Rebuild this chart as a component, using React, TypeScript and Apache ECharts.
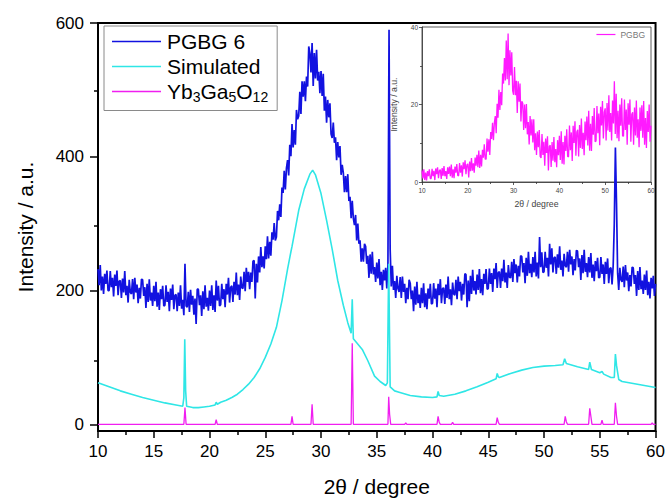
import React, { useEffect, useRef } from 'react';
import * as echarts from 'echarts';

// Main plot: measured PGBG 6 pattern, sampled every 0.1 degree from 10 to 60
const pgbgStart = 10;
const pgbgStep = 0.1;
const pgbgY = [
  232, 208, 238, 200, 221, 195, 225, 210, 230, 200,
  200, 229, 205, 219, 191, 224, 207, 230, 193, 214,
  215, 189, 218, 197, 229, 193, 207, 182, 216, 197,
  195, 217, 187, 219, 197, 209, 181, 204, 188, 217,
  216, 192, 205, 174, 210, 183, 217, 185, 197, 177,
  207, 184, 213, 176, 197, 171, 202, 187, 207, 177,
  178, 208, 183, 198, 169, 203, 186, 209, 172, 193,
  194, 169, 197, 177, 208, 173, 186, 163, 240, 177,
  175, 198, 168, 201, 179, 192, 164, 188, 150, 202,
  202, 178, 193, 162, 199, 172, 208, 176, 189, 170,
  200, 177, 208, 171, 193, 168, 215, 185, 207, 177,
  179, 210, 187, 202, 175, 210, 194, 219, 182, 205,
  207, 183, 213, 194, 227, 193, 209, 186, 221, 204,
  203, 228, 199, 234, 213, 228, 202, 227, 213, 244,
  245, 188, 240, 212, 251, 227, 265, 235, 251, 233,
  266, 247, 281, 248, 273, 252, 287, 276, 301, 275,
  280, 319, 305, 329, 310, 354, 346, 379, 351, 383,
  395, 372, 418, 401, 449, 414, 440, 418, 470, 456,
  461, 497, 464, 513, 490, 513, 483, 520, 505, 565,
  555, 526, 570, 506, 555, 517, 560, 514, 527, 495,
  528, 491, 524, 469, 490, 451, 485, 459, 480, 434,
  428, 451, 421, 429, 395, 422, 399, 416, 373, 388,
  376, 347, 371, 347, 374, 334, 340, 308, 334, 308,
  298, 313, 275, 300, 270, 275, 243, 263, 243, 270,
  266, 240, 252, 219, 254, 225, 258, 224, 235, 213,
  242, 218, 247, 208, 228, 201, 231, 215, 234, 203,
  238, 590, 262, 206, 237, 201, 214, 189, 222, 203,
  198, 220, 189, 221, 198, 210, 181, 204, 187, 216,
  211, 187, 200, 169, 206, 179, 213, 181, 194, 174,
  204, 181, 211, 175, 196, 172, 203, 188, 210, 180,
  181, 211, 188, 203, 175, 210, 193, 217, 181, 203,
  204, 180, 209, 189, 221, 187, 202, 178, 212, 195,
  193, 216, 187, 221, 199, 213, 185, 210, 194, 225,
  224, 175, 215, 184, 222, 195, 231, 200, 214, 194,
  224, 201, 232, 196, 217, 193, 225, 210, 232, 202,
  203, 233, 210, 226, 198, 233, 217, 241, 204, 227,
  228, 204, 233, 214, 246, 212, 227, 204, 238, 220,
  219, 243, 213, 247, 226, 239, 212, 237, 221, 252,
  251, 227, 241, 211, 249, 222, 258, 226, 240, 220,
  250, 227, 258, 221, 242, 218, 280, 235, 257, 227,
  228, 258, 234, 249, 221, 270, 239, 263, 227, 249,
  250, 225, 254, 234, 266, 231, 245, 221, 255, 237,
  235, 258, 228, 261, 239, 251, 223, 247, 230, 260,
  259, 235, 248, 216, 253, 226, 261, 228, 241, 220,
  250, 227, 256, 219, 239, 214, 244, 229, 249, 219,
  220, 250, 225, 239, 210, 243, 225, 248, 211, 233,
  234, 209, 237, 300, 414, 330, 226, 201, 234, 216,
  213, 236, 205, 238, 215, 227, 199, 223, 206, 235,
  234, 210, 223, 192, 229, 201, 235, 202, 215, 195,
  224, 201, 230, 193, 213, 188, 219, 203, 222, 192,
  210,
];

// Simulated pattern
const simX = [10, 11, 12, 13, 14, 15, 16, 17, 17.6, 17.7, 17.78, 17.86, 17.95, 18.5, 19, 19.5, 20, 20.5, 20.6, 20.7, 21, 21.5, 22, 22.5, 23, 23.5, 24, 24.5, 25, 25.5, 26, 26.5, 27, 27.3, 27.4, 27.5, 28, 28.5, 29, 29.25, 29.5, 30, 30.5, 31, 31.5, 32, 32.4, 32.7, 32.8, 32.9, 33.2, 33.7, 34.2, 34.8, 35.3, 35.8, 35.95, 36.07, 36.2, 36.6, 37, 38, 39, 40, 40.4, 40.5, 40.6, 41, 42, 43, 44, 45, 45.7, 45.8, 45.9, 46, 47, 48, 49, 50, 51, 51.7, 51.85, 52, 53, 54, 54.1, 54.25, 55, 55.2, 55.35, 56, 56.3, 56.4, 56.5, 56.7, 57, 58, 59, 60];
const simY = [62, 56, 50, 45, 40, 36, 32, 29, 27, 40, 127, 50, 27, 25, 25, 26, 27, 29, 33, 30, 33, 36, 40, 45, 52, 60, 70, 83, 100, 120, 145, 185, 232, 258, 266, 275, 320, 352, 374, 380, 373, 345, 305, 262, 215, 178, 152, 136, 187, 128, 122, 112, 95, 72, 64, 58, 62, 240, 56, 50, 48, 43, 41, 40, 41, 49, 43, 42, 45, 50, 56, 63, 68, 76, 71, 70, 76, 81, 85, 87, 88, 89, 98, 91, 86, 82, 93, 82, 77, 79, 75, 70, 70, 105, 88, 67, 64, 61, 58, 55];

// Reference Yb3Ga5O12 pattern
const ybX = [10, 17.7, 17.8, 17.9, 20.5, 20.6, 20.7, 27.3, 27.4, 27.5, 29.1, 29.2, 29.3, 32.7, 32.8, 32.9, 36.0, 36.07, 36.15, 36.25, 37.5, 37.6, 37.7, 40.4, 40.5, 40.6, 40.7, 41.7, 41.8, 41.9, 45.7, 45.8, 45.9, 46.0, 51.8, 51.9, 52.0, 52.1, 54.0, 54.1, 54.2, 54.3, 55.1, 55.2, 55.3, 56.3, 56.4, 56.5, 56.6, 59.6, 59.7, 59.8, 60];
const ybY = [0, 0, 25, 0, 0, 7, 0, 0, 12, 0, 0, 30, 0, 0, 121, 0, 0, 41, 15, 0, 0, 2, 0, 0, 12, 3, 0, 0, 3, 0, 0, 10, 3, 0, 0, 12, 4, 0, 0, 24, 12, 0, 0, 6, 0, 0, 32, 12, 0, 0, 2, 0, 0];

// Inset: PGBG pattern, sampled every 0.2 degree from 10 to 60
const insetStart = 10;
const insetStep = 0.2;
const insetY = [
  3.0, 0.9, 3.3, 0.5, 2.4, 0.4, 2.8, 1.5, 3.3, 0.9,
  0.9, 3.4, 1.5, 2.9, 0.5, 3.5, 2.0, 3.8, 1.0, 2.9,
  3.2, 0.8, 3.6, 1.6, 4.1, 1.5, 2.8, 0.8, 3.8, 2.1,
  4.0, 1.5, 4.5, 1.1, 3.3, 1.0, 4.0, 2.4, 4.6, 1.7,
  1.6, 4.9, 2.4, 4.3, 1.4, 5.1, 3.3, 5.6, 2.0, 4.4,
  4.7, 1.2, 5.3, 2.8, 6.2, 2.9, 4.8, 2.4, 6.3, 4.2,
  7.0, 3.8, 8.1, 3.6, 7.0, 4.0, 8.3, 6.3, 9.7, 5.9,
  5.9, 11.2, 7.8, 11.0, 7.0, 12.9, 11.1, 15.3, 10.8, 15.3,
  17.0, 12.6, 20.2, 16.6, 23.8, 18.6, 23.2, 19.8, 28.0, 25.4,
  32.0, 26.2, 36.5, 26.5, 38.3, 25.0, 34.0, 27.5, 33.5, 23.5,
  22.5, 29.7, 22.4, 26.1, 17.8, 26.0, 20.7, 25.4, 15.6, 20.8,
  20.3, 13.4, 20.0, 13.9, 20.1, 12.3, 15.5, 9.7, 17.0, 12.0,
  16.2, 10.2, 16.2, 8.2, 12.6, 7.0, 13.0, 9.0, 13.4, 6.6,
  6.2, 12.4, 7.0, 10.4, 4.2, 11.2, 7.5, 11.8, 3.0, 9.2,
  9.5, 3.9, 10.3, 5.5, 11.6, 5.1, 8.5, 3.8, 10.8, 6.9,
  11.9, 5.7, 13.1, 4.7, 10.3, 4.5, 11.9, 8.0, 13.6, 6.6,
  6.5, 14.6, 8.2, 12.8, 5.4, 14.5, 10.1, 15.7, 6.8, 12.9,
  13.5, 6.6, 14.7, 8.8, 16.4, 8.5, 12.7, 6.9, 15.6, 10.8,
  16.9, 9.4, 18.4, 8.1, 15.0, 8.0, 17.0, 12.2, 19.1, 10.4,
  10.6, 19.6, 12.6, 17.7, 9.5, 19.4, 14.6, 20.9, 11.2, 18.0,
  19.0, 10.7, 20.4, 13.3, 22.4, 12.9, 17.8, 10.7, 21.0, 15.1,
  26.0, 12.4, 22.8, 11.3, 18.4, 10.5, 20.0, 14.5, 21.6, 11.9,
  11.8, 21.3, 13.4, 18.7, 9.6, 20.3, 14.8, 21.3, 10.4, 17.5,
  18.0, 9.6, 19.2, 12.0, 21.0, 11.4, 16.2, 9.0, 19.2, 13.2,
  19.8, 11.4, 20.9, 9.6, 16.5, 8.8, 18.3, 12.9, 20.0, 10.4,
  14.5,
];

const mainYTicks = [0, 200, 400, 600];
const mainYMinorTicks = [100, 300, 500];

const FONT = '"Liberation Sans", Arial, Helvetica, sans-serif';

export default function App() {
  const ref = useRef<HTMLDivElement>(null);

  useEffect(() => {
    if (!ref.current) return;
    const chart = echarts.init(ref.current, null, { renderer: 'svg' });

    const pgbgData = pgbgY.map((v, i) => [Math.round((pgbgStart + i * pgbgStep) * 100) / 100, v]);
    const simData = simX.map((x, i) => [x, simY[i]]);
    const ybData = ybX.map((x, i) => [x, ybY[i]]);
    const insetData = insetY.map((v, i) => [Math.round((insetStart + i * insetStep) * 100) / 100, v]);

    const mainGrid = { left: 98, right: 11, top: 23, bottom: 67 };

    const option: any = {
      animation: false,
      backgroundColor: '#ffffff',
      textStyle: { fontFamily: FONT },
      grid: [
        { ...mainGrid, show: true, borderColor: '#000', borderWidth: 2, backgroundColor: 'transparent' },
        { left: 422, right: 17, top: 27, bottom: 320, show: true, borderColor: '#333', borderWidth: 0.8, backgroundColor: 'transparent' },
        { ...mainGrid, show: false },
      ],
      legend: [
        {
          data: ['PGBG 6', 'Simulated', 'Yb3Ga5O12'],
          orient: 'vertical',
          left: 104,
          top: 26,
          padding: [5, 9, 7, 8],
          itemGap: 4,
          itemWidth: 49,
          itemHeight: 1.3,
          icon: 'rect',
          borderColor: '#8a8a8a',
          borderWidth: 1,
          textStyle: {
            fontSize: 21,
            color: '#000',
            fontFamily: FONT,
            padding: [0, 0, 0, 1],
            rich: { s: { fontSize: 14, fontFamily: FONT, color: '#000', padding: [10, 0, 0, 0] } },
          },
          formatter: (n: string) => (n === 'Yb3Ga5O12' ? 'Yb{s|3}Ga{s|5}O{s|12}' : n),
        },
        {
          data: ['PGBG'],
          right: 23,
          top: 30,
          padding: 0,
          itemWidth: 19,
          itemHeight: 1.2,
          icon: 'rect',
          textStyle: { fontSize: 8.5, color: '#777', fontFamily: FONT },
        },
      ],
      xAxis: [
        {
          gridIndex: 0,
          type: 'value',
          min: 10,
          max: 60,
          interval: 5,
          name: '2θ / degree',
          nameLocation: 'middle',
          nameGap: 45,
          nameTextStyle: { fontSize: 21, color: '#000', fontFamily: FONT },
          axisLine: { show: true, onZero: false, lineStyle: { color: '#000', width: 2 } },
          axisTick: { show: true, length: 7, lineStyle: { color: '#000', width: 1.5 } },
          minorTick: { show: true, splitNumber: 2, length: 4, lineStyle: { color: '#000', width: 1.5 } },
          axisLabel: { fontSize: 17, color: '#000', margin: 12, fontFamily: FONT },
          splitLine: { show: false },
        },
        {
          gridIndex: 1,
          type: 'value',
          min: 10,
          max: 60,
          interval: 10,
          name: '2θ / degree',
          nameLocation: 'middle',
          nameGap: 17,
          nameTextStyle: { fontSize: 8.7, color: '#444', fontFamily: FONT },
          axisLine: { show: true, onZero: false, lineStyle: { color: '#333', width: 0.8 } },
          axisTick: { show: true, length: 3, lineStyle: { color: '#333', width: 0.8 } },
          minorTick: { show: true, splitNumber: 2, length: 2, lineStyle: { color: '#333', width: 0.8 } },
          axisLabel: { fontSize: 6.5, color: '#444', margin: 5, fontFamily: FONT },
          splitLine: { show: false },
        },
        {
          gridIndex: 2,
          type: 'value',
          min: 10,
          max: 60,
          show: false,
        },
      ],
      yAxis: [
        {
          gridIndex: 0,
          type: 'value',
          position: 'left',
          min: -10,
          max: 600,
          name: 'Intensity / a.u.',
          nameLocation: 'middle',
          nameGap: 62,
          nameRotate: 90,
          nameTextStyle: { fontSize: 21, color: '#000', fontFamily: FONT },
          axisLine: { show: true, onZero: false, lineStyle: { color: '#000', width: 2 } },
          axisTick: { show: true, length: 8, customValues: mainYTicks, lineStyle: { color: '#000', width: 1.5 } },
          axisLabel: { fontSize: 17, color: '#000', margin: 14, customValues: mainYTicks, fontFamily: FONT },
          splitLine: { show: false },
        },
        {
          gridIndex: 2,
          type: 'value',
          position: 'left',
          min: -10,
          max: 600,
          axisLine: { show: false, onZero: false },
          axisTick: { show: true, length: 4, customValues: mainYMinorTicks, lineStyle: { color: '#000', width: 1.5 } },
          axisLabel: { show: false },
          splitLine: { show: false },
        },
        {
          gridIndex: 1,
          type: 'value',
          position: 'left',
          min: 0,
          max: 40,
          interval: 20,
          name: 'Intensity / a.u.',
          nameLocation: 'middle',
          nameGap: 24,
          nameRotate: 90,
          nameTextStyle: { fontSize: 8.7, color: '#444', fontFamily: FONT },
          axisLine: { show: true, onZero: false, lineStyle: { color: '#333', width: 0.8 } },
          axisTick: { show: true, length: 3, lineStyle: { color: '#333', width: 0.8 } },
          minorTick: { show: true, splitNumber: 2, length: 2, lineStyle: { color: '#333', width: 0.8 } },
          axisLabel: { fontSize: 6.5, color: '#444', margin: 4, fontFamily: FONT },
          splitLine: { show: false },
        },
      ],
      series: [
        {
          name: 'PGBG 6',
          type: 'line',
          xAxisIndex: 0,
          yAxisIndex: 0,
          data: pgbgData,
          symbol: 'none',
          color: '#1212e0',
          lineStyle: { width: 1.7, color: '#1212e0' },
          z: 2,
        },
        {
          name: 'Simulated',
          type: 'line',
          xAxisIndex: 0,
          yAxisIndex: 0,
          data: simData,
          symbol: 'none',
          color: '#2fe6e6',
          lineStyle: { width: 1.6, color: '#2fe6e6' },
          z: 3,
        },
        {
          name: 'Yb3Ga5O12',
          type: 'line',
          xAxisIndex: 0,
          yAxisIndex: 0,
          data: ybData,
          symbol: 'none',
          color: '#f01ef0',
          lineStyle: { width: 1.3, color: '#f01ef0' },
          z: 4,
        },
        {
          name: 'PGBG',
          type: 'line',
          xAxisIndex: 1,
          yAxisIndex: 2,
          data: insetData,
          symbol: 'none',
          color: '#ff1aff',
          lineStyle: { width: 1.3, color: '#ff1aff' },
          z: 2,
        },
      ],
    };

    chart.setOption(option);
    return () => chart.dispose();
  }, []);

  return (
    <div
      ref={ref}
      style={{ position: 'fixed', left: 0, top: 0, width: 668, height: 502, background: '#fff' }}
    />
  );
}
